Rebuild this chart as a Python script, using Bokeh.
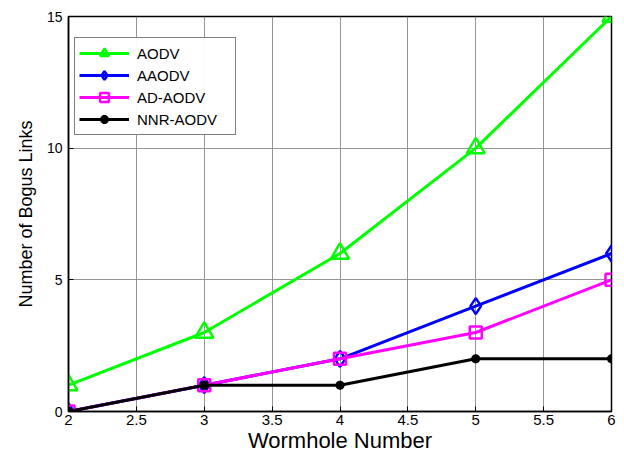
from bokeh.plotting import figure
from bokeh.models import Range1d, FixedTicker, Legend, LegendItem
from bokeh.embed import file_html
from bokeh.resources import INLINE

wormholes = [2, 3, 4, 5, 6]
aodv = [1, 3, 6, 10, 15]
aaodv = [0, 1, 2, 4, 6]
ad_aodv = [0, 1, 2, 3, 5]
nnr_aodv = [0, 1, 1, 2, 2]
x_ticks = [2, 2.5, 3, 3.5, 4, 4.5, 5, 5.5, 6]
y_ticks = [0, 5, 10, 15]

FONT = "Liberation Sans"

p = figure(width=624, height=457, output_backend="svg", toolbar_location=None,
           x_range=Range1d(2, 6), y_range=Range1d(0, 15),
           min_border_left=68, min_border_right=13, min_border_top=16, min_border_bottom=46)

p.outline_line_color = "black"
p.outline_line_width = 1.5
p.background_fill_color = "white"
p.border_fill_color = "white"

for ax in (p.xaxis[0], p.yaxis[0]):
    ax.axis_line_color = "black"
    ax.axis_line_width = 1.5
    ax.major_tick_in = 5
    ax.major_tick_out = 0
    ax.minor_tick_line_color = None
    ax.major_tick_line_color = "black"
    ax.major_label_text_font = FONT
    ax.major_label_text_color = "black"
    ax.axis_label_text_font = FONT
    ax.axis_label_text_font_style = "normal"
    ax.axis_label_text_color = "black"

p.xaxis.ticker = FixedTicker(ticks=x_ticks)
p.yaxis.ticker = FixedTicker(ticks=y_ticks)
p.xaxis.axis_label = "Wormhole Number"
p.yaxis.axis_label = "Number of Bogus Links"
p.xaxis.major_label_text_font_size = "15px"
p.yaxis.major_label_text_font_size = "14px"
p.xaxis.axis_label_text_font_size = "22px"
p.yaxis.axis_label_text_font_size = "18px"
p.xaxis.major_label_standoff = 3
p.yaxis.major_label_standoff = 6
p.xaxis.axis_label_standoff = 0
p.yaxis.axis_label_standoff = 8

p.grid.grid_line_color = "#8a8a8a"
p.grid.grid_line_width = 1
p.grid.grid_line_alpha = 0.9

r1 = p.line(wormholes, aodv, color="#00ff00", line_width=3)
m1 = p.scatter(wormholes, aodv, marker="triangle", size=18, line_color="#00ff00",
               fill_color=None, line_width=2.5)
r2 = p.line(wormholes, aaodv, color="#0000ff", line_width=3)
m2 = p.scatter(wormholes, aaodv, marker="diamond", size=16, line_color="#0000ff",
               fill_color=None, line_width=2.5)
r3 = p.line(wormholes, ad_aodv, color="#ff00ff", line_width=3)
m3 = p.scatter(wormholes, ad_aodv, marker="square", size=12, line_color="#ff00ff",
               fill_color=None, line_width=2.5)
r4 = p.line(wormholes, nnr_aodv, color="black", line_width=3)
m4 = p.scatter(wormholes, nnr_aodv, marker="asterisk", size=9, line_color="black",
               line_width=3)

legend = Legend(items=[
    LegendItem(label="AODV", renderers=[r1, m1]),
    LegendItem(label="AAODV", renderers=[r2, m2]),
    LegendItem(label="AD-AODV", renderers=[r3, m3]),
    LegendItem(label="NNR-AODV", renderers=[r4, m4]),
], location=(6, 276))
legend.label_text_font = FONT
legend.label_text_font_size = "15px"
legend.label_text_color = "black"
legend.border_line_color = "black"
legend.border_line_width = 1
legend.margin = 0
legend.padding = 4
legend.spacing = 0
legend.glyph_width = 50
legend.label_height = 22
legend.glyph_height = 22
legend.label_standoff = 8
legend.label_width = 94
p.add_layout(legend)

open("out.html", "w").write(file_html(p, INLINE))
